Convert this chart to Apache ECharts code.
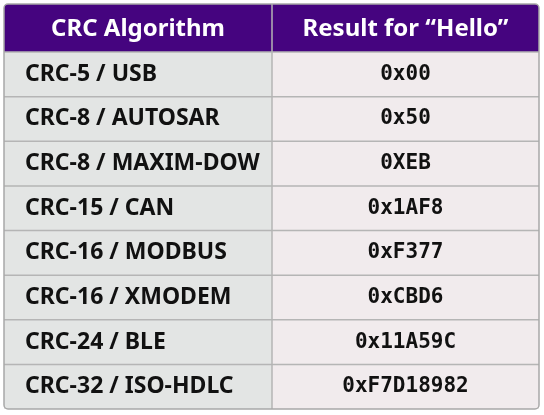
<!DOCTYPE html>
<html>
<head>
<meta charset="utf-8">
<script src="https://cdn.jsdelivr.net/npm/echarts@6/dist/echarts.min.js"></script>
<style>html,body{margin:0;padding:0;background:#fff}#main{width:544px;height:415px}</style>
</head>
<body>
<div id="main"></div>
<script>
var headers = ["CRC Algorithm", "Result for \u201cHello\u201d"];
var algorithms = ["CRC-5 / USB", "CRC-8 / AUTOSAR", "CRC-8 / MAXIM-DOW", "CRC-15 / CAN",
  "CRC-16 / MODBUS", "CRC-16 / XMODEM", "CRC-24 / BLE", "CRC-32 / ISO-HDLC"];
var results = ["0x00", "0x50", "0XEB", "0x1AF8", "0xF377", "0xCBD6", "0x11A59C", "0xF7D18982"];

var chart = echarts.init(document.getElementById("main"));
var L = 4, R = 539, T = 4, HB = 52, B = 409, SPLIT = 272;
var rowH = (B - HB) / algorithms.length;
var els = [];
els.push({ type: "rect", shape: { x: L, y: T, width: R - L, height: HB - T, r: [4, 4, 0, 0] }, style: { fill: "#45047f" } });
els.push({ type: "rect", shape: { x: L, y: HB, width: SPLIT - L, height: B - HB }, style: { fill: "#e3e5e4" } });
els.push({ type: "rect", shape: { x: SPLIT, y: HB, width: R - SPLIT, height: B - HB }, style: { fill: "#f1ebed" } });
[(L + SPLIT) / 2, (SPLIT + R) / 2].forEach(function (cx, i) {
  els.push({ type: "text", x: cx, y: (T + HB) / 2 + 1, style: { text: headers[i], fill: "#fff",
    font: "bold 24px 'Noto Sans'", align: "center", verticalAlign: "middle" } });
});
algorithms.forEach(function (a, i) {
  var cy = HB + rowH * (i + 0.5);
  els.push({ type: "text", x: 25, y: cy, style: { text: a, fill: "#111",
    font: "bold 23px 'Noto Sans'", align: "left", verticalAlign: "middle" } });
  els.push({ type: "text", x: (SPLIT + R) / 2, y: cy, style: { text: results[i], fill: "#111",
    font: "bold 21px 'DejaVu Sans Mono'", align: "center", verticalAlign: "middle" } });
  if (i > 0) {
    els.push({ type: "line", shape: { x1: L, y1: HB + rowH * i, x2: R, y2: HB + rowH * i }, style: { stroke: "#b5b5b5", lineWidth: 1.5 } });
  }
});
els.push({ type: "line", shape: { x1: SPLIT, y1: T, x2: SPLIT, y2: B }, style: { stroke: "#b5b5b5", lineWidth: 1.5 } });
els.push({ type: "line", shape: { x1: L, y1: HB, x2: R, y2: HB }, style: { stroke: "#b5b5b5", lineWidth: 1.5 } });
els.push({ type: "rect", shape: { x: L, y: T, width: R - L, height: B - T, r: 4 }, style: { fill: "none", stroke: "#a8a8a8", lineWidth: 1.5 } });

chart.setOption({ animation: false, graphic: { elements: els } });
</script>
</body>
</html>
